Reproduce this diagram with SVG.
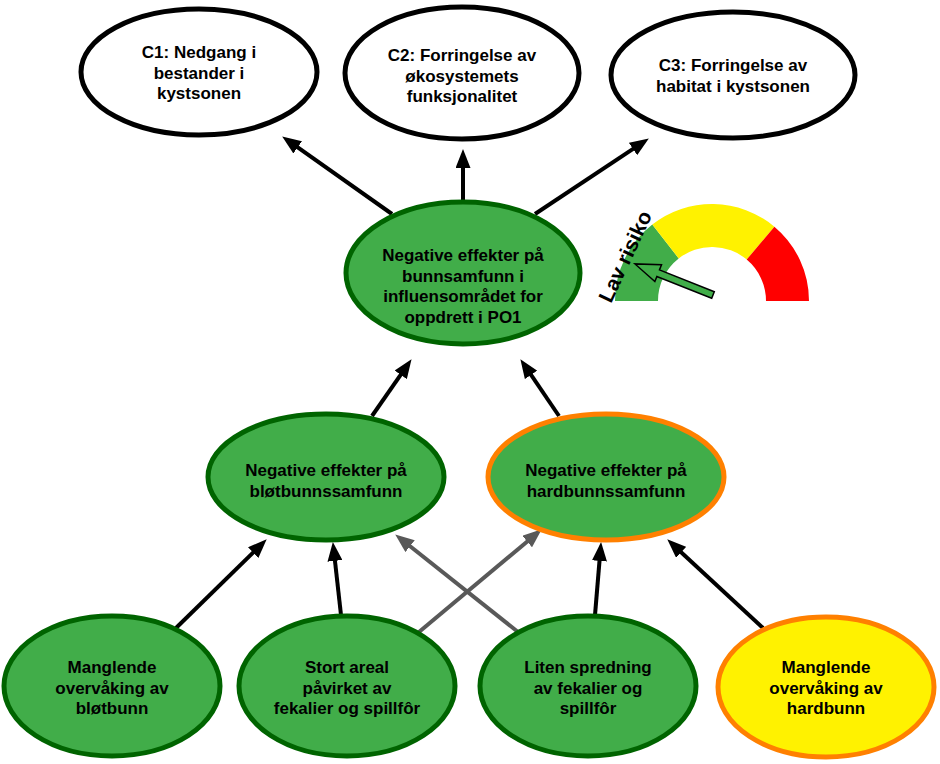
<svg xmlns="http://www.w3.org/2000/svg" width="940" height="764" viewBox="0 0 940 764">
<style>
text{font-family:"Liberation Sans",Arial,sans-serif;font-weight:bold;font-size:17px;fill:#000;text-anchor:middle}
.top{fill:#fff;stroke:#000;stroke-width:5}
.grn{fill:#41ad49;stroke:#006400;stroke-width:5}
.grnO{fill:#41ad49;stroke:#ff8000;stroke-width:5}
.yel{fill:#fff200;stroke:#ff8000;stroke-width:5}
.blk{stroke:#000;stroke-width:4;fill:none;marker-end:url(#ah)}
.gry{stroke:#595959;stroke-width:4;fill:none;marker-end:url(#ahg)}
</style>
<defs>
<marker id="ah" markerUnits="userSpaceOnUse" markerWidth="19" markerHeight="15" refX="6" refY="7.5" orient="auto"><path d="M0,0 L19,7.5 L0,15 z" fill="#000"/></marker>
<marker id="ahg" markerUnits="userSpaceOnUse" markerWidth="19" markerHeight="15" refX="6" refY="7.5" orient="auto"><path d="M0,0 L19,7.5 L0,15 z" fill="#595959"/></marker>
</defs>
<rect width="940" height="764" fill="#fff"/>
<g id="connectors">
<line class="blk" x1="392" y1="214" x2="292.8" y2="143.9"/>
<line class="blk" x1="463" y1="200" x2="463" y2="162"/>
<line class="blk" x1="535" y1="214" x2="638" y2="145.6"/>
<line class="blk" x1="372" y1="416" x2="404.1" y2="369.9"/>
<line class="blk" x1="559" y1="416" x2="527.7" y2="369.9"/>
<line class="blk" x1="176" y1="628" x2="257.4" y2="548.4"/>
<line class="blk" x1="341" y1="615" x2="334.3" y2="554.9"/>
<line class="gry" x1="419" y1="632" x2="531.8" y2="537.7"/>
<line class="gry" x1="518" y1="632" x2="405.4" y2="542.5"/>
<line class="blk" x1="595" y1="615" x2="600" y2="555"/>
<line class="blk" x1="763" y1="628" x2="676.8" y2="548.2"/>
</g>
<g id="c1"><ellipse class="top" cx="199" cy="72" rx="118" ry="63"/>
<text x="199" y="58">C1: Nedgang i</text><text x="199" y="78.5">bestander i</text><text x="199" y="99">kystsonen</text></g>
<g id="c2"><ellipse class="top" cx="462" cy="73" rx="117" ry="66"/>
<text x="462" y="61">C2: Forringelse av</text><text x="462" y="81.5">økosystemets</text><text x="462" y="102">funksjonalitet</text></g>
<g id="c3"><ellipse class="top" cx="733" cy="75" rx="122" ry="63"/>
<text x="733" y="71">C3: Forringelse av</text><text x="733" y="91.5">habitat i kystsonen</text></g>
<g id="center"><ellipse class="grn" cx="463" cy="273" rx="117" ry="71"/>
<text x="463" y="261">Negative effekter på</text><text x="463" y="281.5">bunnsamfunn i</text><text x="463" y="302">influensområdet for</text><text x="463" y="322.5">oppdrett i PO1</text></g>
<g id="bloet"><ellipse class="grn" cx="326" cy="477" rx="118" ry="63"/>
<text x="326" y="476">Negative effekter på</text><text x="326" y="496.5">bløtbunnssamfunn</text></g>
<g id="hard"><ellipse class="grnO" cx="606" cy="477" rx="118" ry="63"/>
<text x="606" y="476">Negative effekter på</text><text x="606" y="496.5">hardbunnssamfunn</text></g>
<g id="b1"><ellipse class="grn" cx="112" cy="686" rx="108" ry="70"/>
<text x="112" y="673">Manglende</text><text x="112" y="693.5">overvåking av</text><text x="112" y="714">bløtbunn</text></g>
<g id="b2"><ellipse class="grn" cx="347" cy="686" rx="108" ry="70"/>
<text x="347" y="673">Stort areal</text><text x="347" y="693.5">påvirket av</text><text x="347" y="714">fekalier og spillfôr</text></g>
<g id="b3"><ellipse class="grn" cx="588" cy="686" rx="108" ry="70"/>
<text x="588" y="673">Liten spredning</text><text x="588" y="693.5">av fekalier og</text><text x="588" y="714">spillfôr</text></g>
<g id="b4"><ellipse class="yel" cx="826" cy="687" rx="108" ry="70"/>
<text x="826" y="673">Manglende</text><text x="826" y="693.5">overvåking av</text><text x="826" y="714">hardbunn</text></g>
<g id="gauge">
<path d="M615,301 A97,97 0 0 1 652.3,224.6 L678.7,258.4 A54,54 0 0 0 658,301 Z" fill="#41ad49"/>
<path d="M652.3,224.6 A97,97 0 0 1 774.4,226.7 L746.7,259.6 A54,54 0 0 0 678.7,258.4 Z" fill="#fff200"/>
<path d="M774.4,226.7 A97,97 0 0 1 809,301 L766,301 A54,54 0 0 0 746.7,259.6 Z" fill="#ff0000"/>
<polygon points="0,-3.5 59,-3.5 59,-9 84,0 59,9 59,3.5 0,3.5" fill="#41ad49" stroke="#000" stroke-width="1.5" transform="translate(713,295) rotate(201.7)"/>
<text x="0" y="0" transform="translate(611,304) rotate(-65)" style="font-size:21px;text-anchor:start">Lav risiko</text>
</g>
</svg>
